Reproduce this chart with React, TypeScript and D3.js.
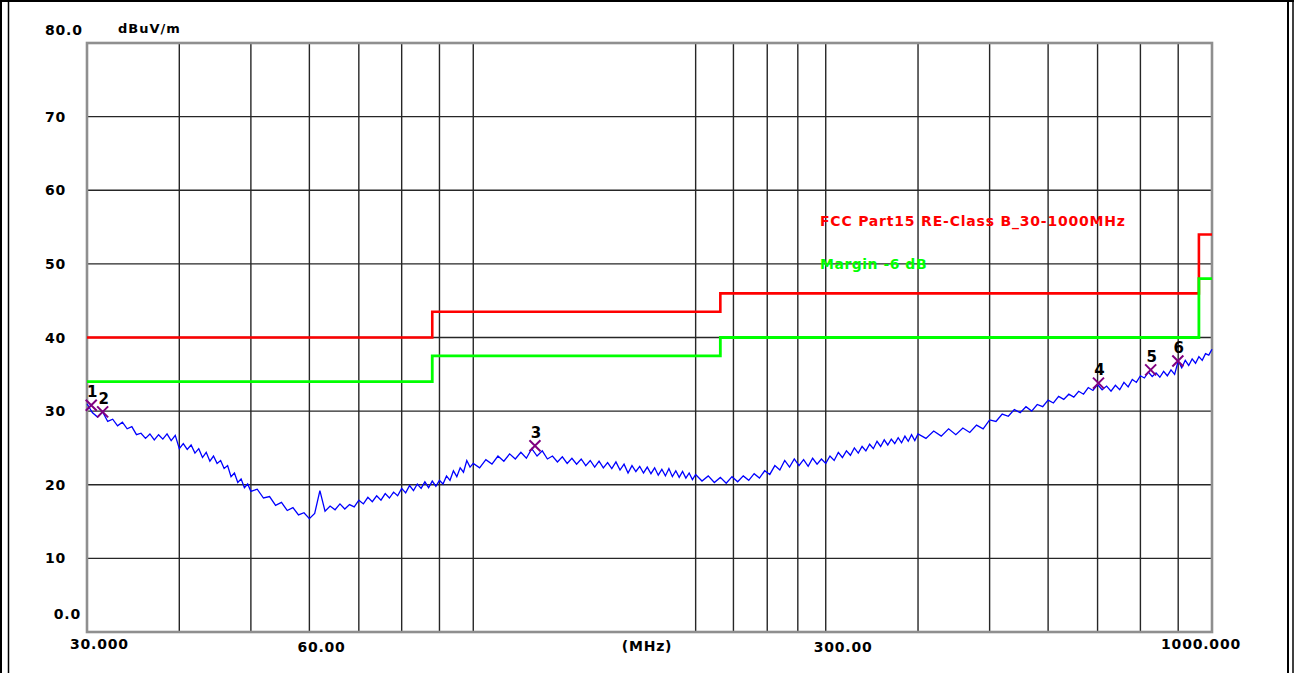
import React from "react";
import * as d3 from "d3";

const W = 1294;
const H = 673;

// Y axis
const yTickValues = [80, 70, 60, 50, 40, 30, 20, 10, 0];
const yTickLabels = ["80.0", "70", "60", "50", "40", "30", "20", "10", "0.0"];
const yUnit = "dBuV/m";

// X axis (log, MHz)
const xGridValues = [40, 50, 60, 70, 80, 90, 100, 200, 225, 250, 275, 300, 400, 500, 600, 700, 800, 900];
const xLabelValues = [30, 60, 300, 1000];
const xLabelTexts = ["30.000", "60.00", "300.00", "1000.000"];
const xUnit = "(MHz)";

// Limit lines (step-after at these frequencies)
const limitFreqs = [30, 88, 216, 960, 1000];
const limitLevels = [40, 43.5, 46, 54, 54];
const marginLevels = [34, 37.5, 40, 48, 48];
const limitName = "FCC Part15 RE-Class B_30-1000MHz";
const marginName = "Margin -6 dB";

// Measured trace
const traceFreqs = [
  30, 30.5, 31, 31.5, 32, 32.5, 33, 33.5, 34, 34.5, 35, 35.5, 36, 36.5, 37, 37.5, 38, 38.5, 39, 39.5,
  40, 40.5, 41, 41.5, 42, 42.5, 43, 43.5, 44, 44.5, 45, 45.5, 46, 46.5, 47, 47.5, 48, 48.5, 49, 49.5, 50,
  51, 52, 53, 54, 55, 56, 57, 58, 59, 60, 61, 62, 63, 64, 65, 66, 67, 68, 69, 70,
  71, 72, 73, 74, 75, 76, 77, 78, 79, 80, 81, 82, 83, 84, 85, 86, 87, 88, 89, 90,
  91, 92, 93, 94, 95, 96, 97, 98, 99, 100,
  102, 104, 106, 108, 110, 112, 114, 116, 118, 120, 122, 124, 126, 128, 130, 132, 134, 136, 138, 140,
  142, 144, 146, 148, 150, 152, 154, 156, 158, 160, 162, 164, 166, 168, 170, 172, 174, 176, 178, 180,
  182, 184, 186, 188, 190, 192, 194, 196, 198, 200,
  204, 208, 212, 216, 220, 224, 228, 232, 236, 240, 244, 248, 252, 256, 260, 264, 268, 272, 276, 280,
  284, 288, 292, 296, 300, 304, 308, 312, 316, 320, 324, 328, 332, 336, 340, 344, 348, 352, 356, 360,
  364, 368, 372, 376, 380, 384, 388, 392, 396, 400,
  410, 420, 430, 440, 450, 460, 470, 480, 490, 500, 510, 520, 530, 540, 550, 560, 570, 580, 590, 600,
  610, 620, 630, 640, 650, 660, 670, 680, 690, 700, 710, 720, 730, 740, 750, 760, 770, 780, 790, 800,
  810, 820, 830, 840, 850, 860, 870, 880, 890, 900, 910, 920, 930, 940, 950, 960, 970, 980, 990, 1000,
];
const traceLevels = [
  31.0, 29.8, 29.2, 29.9, 28.6, 28.9, 28.0, 28.5, 27.6, 27.9, 26.8, 27.0, 26.3, 26.9, 26.1, 26.8, 26.2, 26.9, 26.0, 26.7,
  24.9, 25.6, 24.8, 25.4, 24.3, 24.9, 23.7, 24.4, 23.2, 23.9, 22.9, 23.3, 22.2, 22.6, 21.1, 21.6, 20.3, 20.8, 19.6, 20.1, 19.1,
  19.4, 18.2, 18.4, 17.2, 17.6, 16.5, 16.9, 15.9, 16.2, 15.4, 16.1, 19.2, 16.4, 17.1, 16.6, 17.4, 16.7, 17.3, 17.0, 17.9,
  17.4, 18.3, 17.7, 18.5, 17.9, 18.8, 18.2, 19.0, 18.5, 19.5, 18.9, 19.9, 19.2, 20.1, 19.5, 20.4, 19.6, 20.5, 19.8, 20.6,
  20.1, 21.2, 20.6, 21.9, 21.1, 22.3, 21.7, 23.3, 22.4, 22.9,
  22.3, 23.4, 22.8, 23.9, 23.2, 24.2, 23.5, 24.4, 23.6, 24.9, 23.9, 24.6, 23.5, 23.9, 23.1, 23.8, 22.9, 23.6, 22.8, 23.5,
  22.6, 23.3, 22.4, 23.2, 22.3, 23.0, 22.2, 23.1, 22.0, 22.8, 21.6, 22.6, 21.8, 22.5, 21.6, 22.4, 21.5, 22.3, 21.3, 22.1,
  21.2, 22.2, 21.1, 21.9, 21.0, 21.8, 20.9, 21.6, 20.7, 21.4,
  20.5, 21.2, 20.3, 21.0, 20.2, 21.1, 20.4, 21.2, 20.6, 21.5, 20.9, 21.9, 21.4, 22.6, 22.0, 23.3, 22.4, 23.5, 22.6, 23.4,
  22.5, 23.6, 22.8, 23.5, 22.9, 23.9, 23.3, 24.4, 23.7, 24.6, 24.0, 25.0, 24.3, 25.2, 24.6, 25.5, 24.9, 25.9, 25.2, 26.1,
  25.4, 26.2, 25.6, 26.4, 25.7, 26.6, 25.9, 26.8, 26.0, 26.9,
  26.3, 27.3, 26.6, 27.6, 26.8, 27.7, 27.1, 28.1, 27.6, 28.8, 28.6, 29.6, 29.3, 30.2, 29.8, 30.6, 30.0, 30.9, 30.6, 31.5,
  31.1, 32.0, 31.6, 32.3, 31.9, 32.7, 32.3, 33.2, 32.8, 33.6, 32.9, 33.4, 32.7, 33.5, 32.9, 33.9, 33.3, 34.3, 33.9, 34.8,
  34.5, 35.3, 34.7, 35.2, 34.6, 35.4, 34.8, 35.6, 35.0, 36.8, 35.9, 36.9, 36.2, 37.1, 36.5, 37.4, 36.9, 37.8, 37.6, 38.4,
];

// Peak markers
const markerIds = ["1", "2", "3", "4", "5", "6"];
const markerFreqs = [30.4, 31.5, 121.2, 702, 826, 899];
const markerLevels = [30.8, 29.9, 25.3, 33.8, 35.6, 36.8];

const FONT = "'DejaVu Sans', Verdana, sans-serif";

export default function App() {
  const left = 87, right = 1212, top = 43, bottom = 632;
  const x = d3.scaleLog().domain([30, 1000]).range([left, right]);
  const y = d3.scaleLinear().domain([0, 80]).range([bottom, top]);

  const stepLine = d3
    .line<[number, number]>()
    .x((d) => x(d[0]))
    .y((d) => y(d[1]))
    .curve(d3.curveStepAfter);

  const limitPts: [number, number][] = limitFreqs.map((f, i) => [f, limitLevels[i]]);
  const marginPts: [number, number][] = limitFreqs.map((f, i) => [f, marginLevels[i]]);

  const n = Math.min(traceFreqs.length, traceLevels.length);
  const tracePts: [number, number][] = [];
  for (let i = 0; i < n; i++) tracePts.push([traceFreqs[i], traceLevels[i]]);
  const traceLine = d3
    .line<[number, number]>()
    .x((d) => x(d[0]))
    .y((d) => y(d[1]));

  const gridColor = "#262626";

  return (
    <svg
      width={W}
      height={H}
      viewBox={`0 0 ${W} ${H}`}
      style={{ position: "absolute", left: 0, top: 0, display: "block", background: "#fff" }}
    >
      <rect x={0} y={0} width={W} height={H} fill="#fff" />
      {/* outer window frame */}
      <line x1={1} y1={0} x2={1} y2={H} stroke="#000" strokeWidth={2} />
      <line x1={8.5} y1={2} x2={8.5} y2={H} stroke="#000" strokeWidth={1.5} />
      <line x1={0} y1={1} x2={W} y2={1} stroke="#000" strokeWidth={2} />
      <line x1={1288} y1={2} x2={1288} y2={H} stroke="#000" strokeWidth={2} />
      <line x1={1293} y1={0} x2={1293} y2={H} stroke="#000" strokeWidth={1.5} />

      {/* horizontal grid */}
      {yTickValues
        .filter((v) => v > 0 && v < 80)
        .map((v) => (
          <line key={"hg" + v} x1={left} x2={right} y1={y(v)} y2={y(v)} stroke={gridColor} strokeWidth={1.4} />
        ))}
      {/* vertical grid */}
      {xGridValues.map((v) => (
        <line key={"vg" + v} x1={x(v)} x2={x(v)} y1={top} y2={bottom} stroke={gridColor} strokeWidth={1.4} />
      ))}

      {/* plot frame */}
      <rect x={left} y={top} width={right - left} height={bottom - top} fill="none" stroke="#8f8f8f" strokeWidth={2.6} />

      {/* y tick labels */}
      {yTickValues.map((v, i) => {
        const label = yTickLabels[i];
        let cy = y(v);
        let anchor: "start" | "end" = "start";
        let tx = 45;
        if (v === 80) cy = y(v) - 13;
        if (v === 0) {
          cy = y(v) - 18;
          anchor = "end";
          tx = 81;
        }
        return (
          <text
            key={"yl" + v}
            x={tx}
            y={cy + 5}
            textAnchor={anchor}
            fontFamily={FONT}
            fontWeight="bold"
            fontSize={14}
            letterSpacing={0.8}
            fill="#000"
          >
            {label}
          </text>
        );
      })}
      <text x={118} y={33} fontFamily={FONT} fontWeight="bold" fontSize={13} letterSpacing={1} fill="#000">
        {yUnit}
      </text>

      {/* x labels */}
      {xLabelValues.map((v, i) => {
        const last = i === xLabelValues.length - 1;
        const first = i === 0;
        const tx = first ? x(v) - 17 : last ? x(v) + 29 : x(v) - 12;
        return (
          <text
            key={"xl" + v}
            x={tx}
            y={first || last ? 649 : 652}
            textAnchor={last ? "end" : "start"}
            fontFamily={FONT}
            fontWeight="bold"
            fontSize={14}
            letterSpacing={0.8}
            fill="#000"
          >
            {xLabelTexts[i]}
          </text>
        );
      })}
      <text x={647} y={651} textAnchor="middle" fontFamily={FONT} fontWeight="bold" fontSize={14} letterSpacing={0.8} fill="#000">
        {xUnit}
      </text>

      {/* limit lines */}
      <path d={stepLine(limitPts) || ""} fill="none" stroke="#ff0000" strokeWidth={2.6} />
      <path d={stepLine(marginPts) || ""} fill="none" stroke="#00ff00" strokeWidth={2.8} />

      {/* legend texts */}
      <text x={820} y={226} fontFamily={FONT} fontWeight="bold" fontSize={14} letterSpacing={0.8} fill="#ff0000">
        {limitName}
      </text>
      <text x={820} y={269} fontFamily={FONT} fontWeight="bold" fontSize={14} letterSpacing={0.5} fill="#00ff00">
        {marginName}
      </text>

      {/* trace */}
      <path d={traceLine(tracePts) || ""} fill="none" stroke="#0000ff" strokeWidth={1.3} />

      {/* markers */}
      {markerIds.map((id, i) => {
        const cx = x(markerFreqs[i]);
        const cy = y(markerLevels[i]);
        const s = 5.5;
        return (
          <g key={"m" + id}>
            <path
              d={`M${cx - s},${cy - s}L${cx + s},${cy + s}M${cx - s},${cy + s}L${cx + s},${cy - s}`}
              stroke="#800080"
              strokeWidth={2}
              fill="none"
            />
            <text x={cx + 1} y={cy - 8} textAnchor="middle" fontFamily={FONT} fontWeight="bold" fontSize={15} fill="#000">
              {id}
            </text>
          </g>
        );
      })}
    </svg>
  );
}
